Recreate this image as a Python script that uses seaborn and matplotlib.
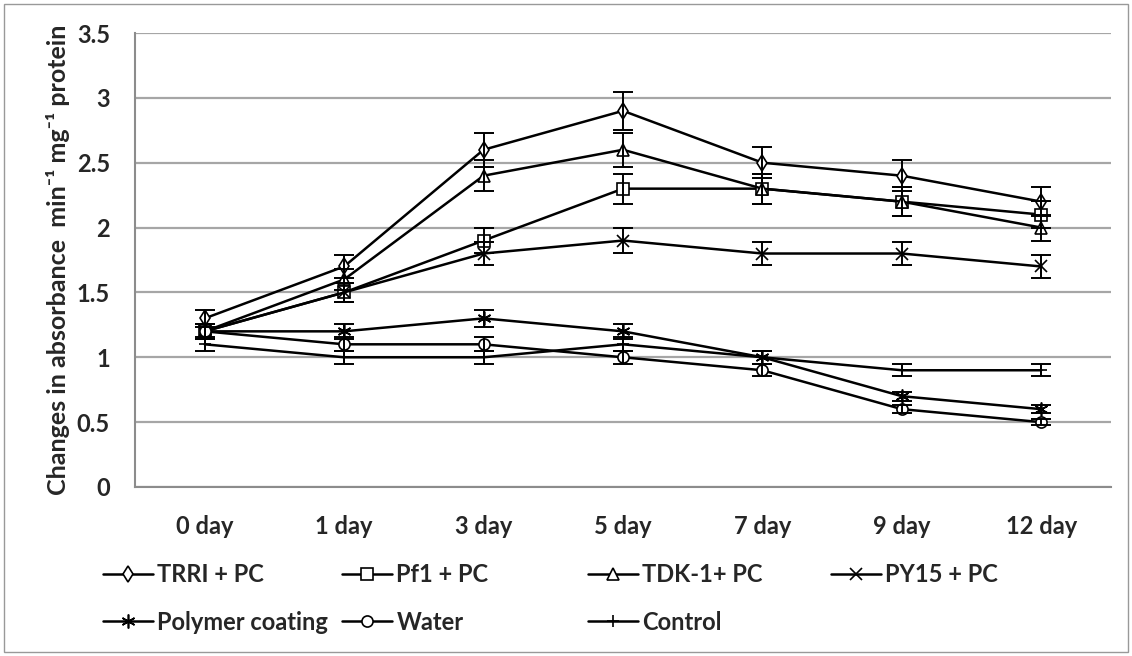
import numpy as np
import pandas as pd
import matplotlib
matplotlib.use('Agg')
import matplotlib.pyplot as plt
import seaborn as sns
from matplotlib import font_manager
from matplotlib.patches import Rectangle

# dados (valores e barras de erro)
days = ['0 day', '1 day', '3 day', '5 day', '7 day', '9 day', '12 day']

trri = [1.3, 1.7, 2.6, 2.9, 2.5, 2.4, 2.2]
trri_err = [0.065, 0.085, 0.13, 0.145, 0.12, 0.12, 0.11]
pf1 = [1.2, 1.5, 1.9, 2.3, 2.3, 2.2, 2.1]
pf1_err = [0.06, 0.075, 0.095, 0.115, 0.115, 0.11, 0.105]
tdk = [1.2, 1.6, 2.4, 2.6, 2.3, 2.2, 2.0]
tdk_err = [0.06, 0.08, 0.12, 0.13, 0.115, 0.11, 0.1]
py15 = [1.2, 1.5, 1.8, 1.9, 1.8, 1.8, 1.7]
py15_err = [0.06, 0.075, 0.09, 0.095, 0.09, 0.09, 0.085]
polymer = [1.2, 1.2, 1.3, 1.2, 1.0, 0.7, 0.6]
polymer_err = [0.06, 0.06, 0.065, 0.06, 0.05, 0.035, 0.03]
water = [1.2, 1.1, 1.1, 1.0, 0.9, 0.6, 0.5]
water_err = [0.06, 0.055, 0.055, 0.05, 0.045, 0.03, 0.025]
control = [1.1, 1.0, 1.0, 1.1, 1.0, 0.9, 0.9]
control_err = [0.055, 0.05, 0.05, 0.055, 0.05, 0.045, 0.045]

# nome, valores, erro, marcador, tamanho do marcador
series = [
    ('TRRI + PC', trri, trri_err, 'd', 8),
    ('Pf1 + PC', pf1, pf1_err, 's', 8),
    ('TDK-1+ PC', tdk, tdk_err, '^', 8),
    ('PY15 + PC', py15, py15_err, 'x', 8),
    ('Polymer coating', polymer, polymer_err, (6, 2, 0), 10),
    ('Water', water, water_err, 'o', 8),
    ('Control', control, control_err, '+', 9),
]

sns.set_style('white')
nomes = {f.name for f in font_manager.fontManager.ttflist}
fonte = 'Lato' if 'Lato' in nomes else 'Liberation Sans'
plt.rcParams['font.family'] = [fonte, 'DejaVu Sans']
plt.rcParams['font.weight'] = 'bold'

fs = 17
cinza = '#8c8c8c'

fig = plt.figure(figsize=(11.32, 6.56), dpi=100)
ax = fig.add_axes([135 / 1132, 1 - 487 / 656, (1111 - 135) / 1132, (487 - 33) / 656])

x = np.arange(len(days))
for nome, vals, err, mk, ms in series:
    sns.lineplot(x=x, y=vals, ax=ax, color='black', linewidth=1.8, marker=mk,
                 markersize=ms, markerfacecolor='white', markeredgecolor='black',
                 markeredgewidth=1.2, label=nome, sort=False, errorbar=None, zorder=3)
    ax.errorbar(x, vals, yerr=err, fmt='none', ecolor='black', elinewidth=1.4,
                capsize=7, capthick=1.4, zorder=4)

handles, labels = ax.get_legend_handles_labels()
ax.get_legend().remove()

ax.set_xlim(-0.5, len(days) - 0.5)
ax.set_ylim(0, 3.5)
ax.set_yticks(np.arange(0, 3.51, 0.5))
ax.set_yticklabels(['0', '0.5', '1', '1.5', '2', '2.5', '3', '3.5'])
ax.set_xticks(x)
ax.set_xticklabels(days)
ax.set_xticks(np.arange(-0.5, len(days), 1), minor=True)
ax.tick_params(axis='x', which='major', length=0, pad=20, labelsize=fs)
ax.tick_params(axis='x', which='minor', length=6, width=1.5, color=cinza, direction='out')
ax.tick_params(axis='y', length=6, width=1.5, color=cinza, direction='out', pad=12, labelsize=fs)
for lab in ax.get_xticklabels() + ax.get_yticklabels():
    lab.set_fontweight('bold')

ax.yaxis.grid(True, color='#a6a6a6', linewidth=1.6)
ax.set_axisbelow(True)
for lado in ['top', 'right']:
    ax.spines[lado].set_visible(False)
for lado in ['left', 'bottom']:
    ax.spines[lado].set_color(cinza)
    ax.spines[lado].set_linewidth(1.5)

ax.set_ylabel('Changes in absorbance  min\u207b\u00b9 mg\u207b\u00b9 protein',
              fontsize=18, fontweight='bold', labelpad=5)

# legenda em duas linhas, posicoes fixas como no excel
pos_x = [103, 342, 588, 831, 103, 342, 588]
pos_y = [575, 575, 575, 575, 622, 622, 622]
for h, l, px, py in zip(handles, labels, pos_x, pos_y):
    leg = fig.legend([h], [l], loc='center left', bbox_to_anchor=(px / 1132, 1 - py / 656),
                     frameon=False, borderpad=0, borderaxespad=0, handlelength=2.1,
                     handletextpad=0.2, prop={'size': fs, 'weight': 'bold'})

# borda cinza da area do grafico
fig.patches.append(Rectangle((4 / 1132, 4 / 656), 1124 / 1132, 648 / 656,
                             transform=fig.transFigure, fill=False,
                             edgecolor='#999999', linewidth=1))

fig.savefig('out.png', dpi=100)
